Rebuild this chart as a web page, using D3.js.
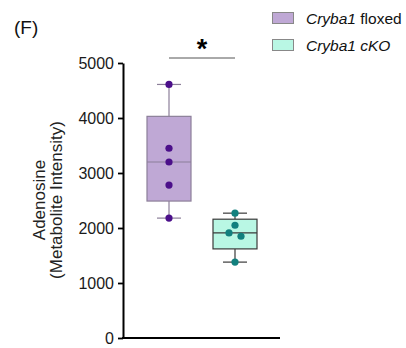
<!DOCTYPE html>
<html><head><meta charset="utf-8">
<script src="https://cdn.jsdelivr.net/npm/d3@7/dist/d3.min.js"></script>
<style>body{margin:0;background:#fff}svg{display:block}text{font-family:"Liberation Sans",Arial,sans-serif}</style>
</head><body>
<script>
const groups = ["Cryba1 floxed", "Cryba1 cKO"];
const q1 = [2490, 1620];
const medians = [3200, 1910];
const q3 = [4030, 2160];
const whiskLo = [2180, 1380];
const whiskHi = [4610, 2270];
const pointsFloxed = [4610, 3450, 3200, 2780, 2180];
const pointsCKO = [2270, 2050, 1910, 1850, 1380];
const pointOffsets = [[0,0,0,0,0],[0,0,-6,6,0]];
const yTicks = [0, 1000, 2000, 3000, 4000, 5000];
const fills = ["#bfa8d5", "#b9f7e4"];
const strokes = ["#8c7f99", "#3a3a3a"];
const dotColors = ["#4b0f8a", "#12807e"];

const W = 406, H = 348;
const svg = d3.select("body").append("svg").attr("width", W).attr("height", H);

const y = d3.scaleLinear().domain([0, 5000]).range([338, 63]);
const x = d3.scaleBand().domain(groups).range([114, 290]).paddingInner(1/3).paddingOuter(0.5);

// axes
svg.append("g").attr("transform", "translate(123,0)")
  .call(d3.axisLeft(y).tickValues(yTicks).tickFormat(d3.format("d")).tickSize(5).tickSizeOuter(0))
  .call(g => {
    g.select(".domain").attr("stroke", "#000").attr("stroke-width", 2);
    g.selectAll(".tick line").attr("stroke", "#000").attr("stroke-width", 1.8);
    g.selectAll(".tick text").attr("font-size", 16).attr("fill", "#1a1a1a").attr("x", -9).attr("dy", "0.35em");
  });
svg.append("line").attr("x1", 122).attr("x2", 280).attr("y1", y(0)).attr("y2", y(0))
  .attr("stroke", "#000").attr("stroke-width", 2);

const pts = [pointsFloxed, pointsCKO];
groups.forEach((gname, i) => {
  const cx = x(gname) + x.bandwidth() / 2;
  const bw = x.bandwidth();
  const g = svg.append("g");
  g.append("line").attr("x1", cx).attr("x2", cx).attr("y1", y(whiskHi[i])).attr("y2", y(q3[i])).attr("stroke", strokes[i]).attr("stroke-width", 1.2);
  g.append("line").attr("x1", cx).attr("x2", cx).attr("y1", y(q1[i])).attr("y2", y(whiskLo[i])).attr("stroke", strokes[i]).attr("stroke-width", 1.2);
  [whiskHi[i], whiskLo[i]].forEach(v => {
    g.append("line").attr("x1", cx - 12).attr("x2", cx + 12).attr("y1", y(v)).attr("y2", y(v)).attr("stroke", strokes[i]).attr("stroke-width", 1.2);
  });
  g.append("rect").attr("x", x(gname)).attr("width", bw).attr("y", y(q3[i])).attr("height", y(q1[i]) - y(q3[i]))
    .attr("fill", fills[i]).attr("stroke", strokes[i]).attr("stroke-width", 1.2);
  g.append("line").attr("x1", x(gname)).attr("x2", x(gname) + bw).attr("y1", y(medians[i])).attr("y2", y(medians[i]))
    .attr("stroke", strokes[i]).attr("stroke-width", 1.2);
  pts[i].forEach((v, j) => {
    g.append("circle").attr("cx", cx + pointOffsets[i][j]).attr("cy", y(v)).attr("r", 3.6).attr("fill", dotColors[i]);
  });
});

// significance
const c0 = x(groups[0]) + x.bandwidth() / 2, c1 = x(groups[1]) + x.bandwidth() / 2;
svg.append("line").attr("x1", c0).attr("x2", c1).attr("y1", 58).attr("y2", 58).attr("stroke", "#555").attr("stroke-width", 1);
svg.append("text").attr("x", (c0 + c1) / 2).attr("y", 58).attr("text-anchor", "middle").attr("font-size", 27).attr("font-weight", "bold").text("*");

// panel label
svg.append("text").attr("x", 14).attr("y", 34).attr("font-size", 19).attr("fill", "#111").text("(F)");

// y label
const yl = svg.append("text").attr("transform", `translate(0,200) rotate(-90)`).attr("text-anchor", "middle").attr("font-size", 17).attr("fill", "#222");
yl.append("tspan").attr("x", 0).attr("y", 45).text("Adenosine");
yl.append("tspan").attr("x", 0).attr("y", 62).text("(Metabolite Intensity)");

// legend
const leg = svg.append("g");
groups.forEach((gname, i) => {
  const ly = 12 + i * 27;
  leg.append("rect").attr("x", 272.5).attr("y", ly + 0.5).attr("width", 21).attr("height", 11).attr("fill", fills[i]).attr("stroke", "#888").attr("stroke-width", 1);
  const t = leg.append("text").attr("x", 306).attr("y", ly + 12).attr("font-size", 15.5).attr("fill", "#111");
  const parts = gname.split(" ");
  t.append("tspan").attr("font-style", "italic").text(parts[0]);
  t.append("tspan").attr("font-style", i === 1 ? "italic" : "normal").text(" " + parts[1]);
});
</script>
</body></html>
